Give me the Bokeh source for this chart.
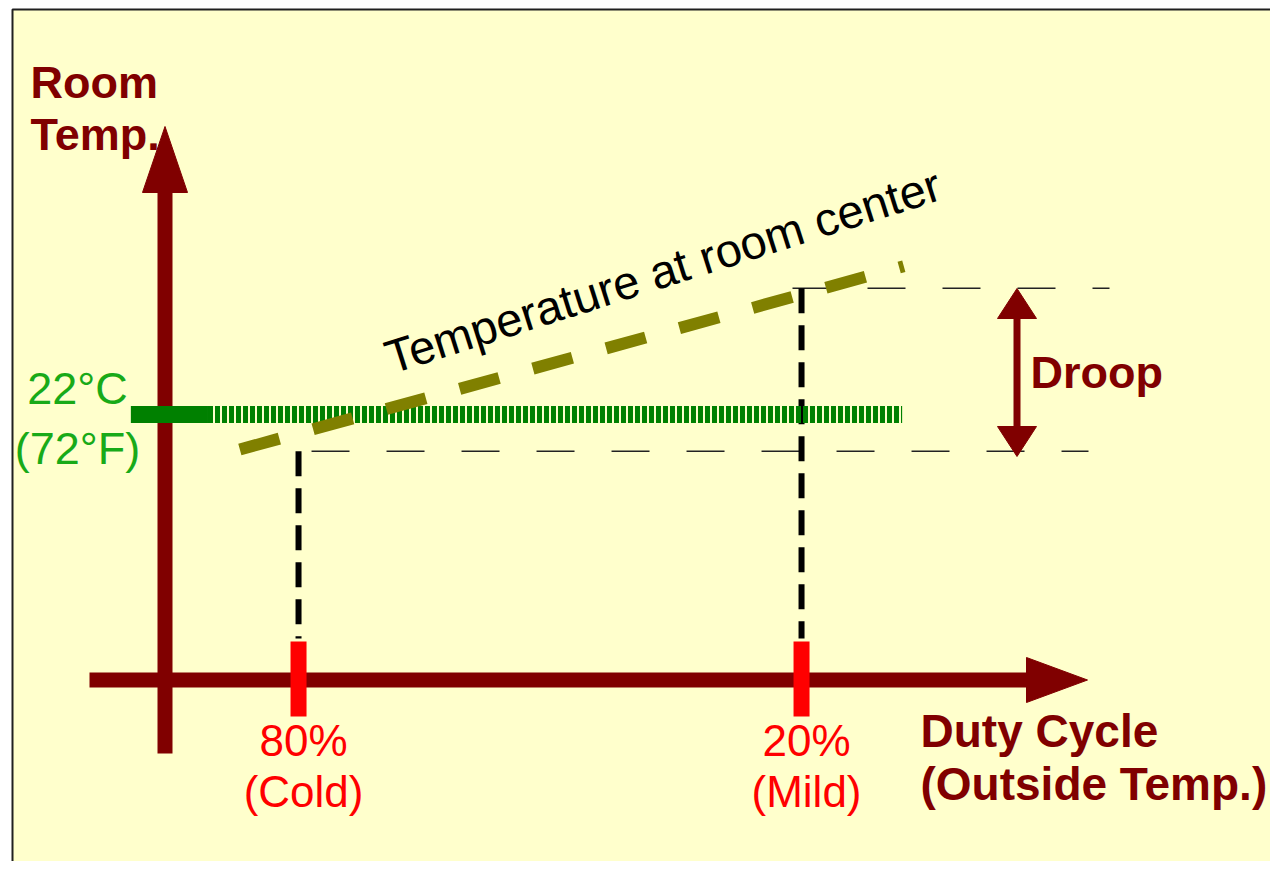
import math
from bokeh.plotting import figure
from bokeh.models import Range1d
from bokeh.core.properties import value
from bokeh.embed import file_html
from bokeh.resources import INLINE

# ---------------- data (schematic values) ----------------
duty_cycle = [80, 20]                      # % duty cycle at the two marked points
duty_pct_labels = ["80%", "20%"]
duty_conditions = ["(Cold)", "(Mild)"]
droop_temp_c = [21.55, 23.55]              # reference room temperatures bounding the droop
setpoint_c = 22
setpoint_labels = ["22°C", "(72°F)"]
setpoint_duty_span = [100.0, 8.0]          # extent of the thermostat set-point line
setpoint_solid_end = 90.8
center_line_duty = [87.0, 7.8]             # temperature at room center (dashed olive)
center_line_temp = [21.57, 23.82]
center_label = "Temperature at room center"
y_title = ["Room", "Temp."]
x_title = ["Duty Cycle", "(Outside Temp.)"]
droop_label = "Droop"

# ---------------- layout ----------------
W, H = 1270, 861
X0, X1 = 115.55, -35.94        # duty cycle at left / right edge (reversed axis)
Y0, Y1 = 16.515, 27.080        # temperature at bottom / top edge
TXT_DY = -17                   # baseline correction for text placement (px)


def X(px):
    return X0 + px / W * (X1 - X0)


def Y(py):
    return Y1 - py / H * (Y1 - Y0)


def TY(py):
    return Y(py + TXT_DY)


MAROON = "#800000"
FONT = value("Liberation Sans")

p = figure(width=W, height=H, x_range=Range1d(X0, X1), y_range=Range1d(Y0, Y1),
           output_backend="svg", toolbar_location=None, min_border=0)
p.axis.visible = False
p.grid.visible = False
p.outline_line_color = None
p.background_fill_color = "white"
p.border_fill_color = "white"

# slide background with frame
p.quad(left=[X(12)], right=[X(1271)], top=[Y(9)], bottom=[Y(890)],
       fill_color="#FFFFCC", line_color="#202020", line_width=2)
p.segment(x0=[X(1273.5)], y0=[Y(11)], x1=[X(1273.5)], y1=[Y(890)],
          line_color="#a8a8a8", line_width=2)

# axes arrows
p.segment(x0=[X(164.5)], y0=[Y(753)], x1=[X(164.5)], y1=[Y(185)],
          line_color=MAROON, line_width=15, line_cap="butt")
p.patch([X(142), X(187), X(164.5)], [Y(192), Y(192), Y(126)],
        fill_color=MAROON, line_color=MAROON, line_width=1)
p.segment(x0=[X(89)], y0=[Y(679.5)], x1=[X(1032)], y1=[Y(679.5)],
          line_color=MAROON, line_width=15, line_cap="butt")
p.patch([X(1026), X(1026), X(1087)], [Y(657), Y(702), Y(679.5)],
        fill_color=MAROON, line_color=MAROON, line_width=1)

# thin droop reference lines
p.segment(x0=[duty_cycle[0]], y0=[droop_temp_c[0]], x1=[X(1088)], y1=[droop_temp_c[0]],
          line_color="#222222", line_width=1.5, line_dash="38 37", line_dash_offset=62)
p.segment(x0=[X(792)], y0=[droop_temp_c[1]], x1=[X(1109)], y1=[droop_temp_c[1]],
          line_color="#222222", line_width=1.5, line_dash="38 37")

# vertical black dashed drops
p.segment(x0=duty_cycle, y0=droop_temp_c, x1=duty_cycle, y1=[Y(638)] * 2,
          line_color="black", line_width=6, line_dash="25 12", line_cap="butt")

# red ticks on the duty cycle axis
p.segment(x0=duty_cycle, y0=[Y(641)] * 2, x1=duty_cycle, y1=[Y(716)] * 2,
          line_color="#FF0000", line_width=16, line_cap="butt")

# set-point line
p.segment(x0=[setpoint_duty_span[0]], y0=[setpoint_c], x1=[setpoint_solid_end], y1=[setpoint_c],
          line_color="#008000", line_width=17, line_cap="butt")
p.segment(x0=[setpoint_solid_end], y0=[setpoint_c], x1=[setpoint_duty_span[1]], y1=[setpoint_c],
          line_color="#008000", line_width=17, line_cap="butt", line_dash="5 2")

# temperature at room center (olive dashed)
p.line(center_line_duty, center_line_temp, line_color="#808000", line_width=12,
       line_dash="41 35", line_cap="butt")

# droop double arrow
p.segment(x0=[X(1016.5)], y0=[Y(312)], x1=[X(1016.5)], y1=[Y(432)],
          line_color=MAROON, line_width=7, line_cap="butt")
p.patch([X(997), X(1036), X(1016.5)], [Y(318), Y(318), Y(288)],
        fill_color=MAROON, line_color=MAROON, line_width=1)
p.patch([X(997), X(1036), X(1016.5)], [Y(426), Y(426), Y(456)],
        fill_color=MAROON, line_color=MAROON, line_width=1)

# texts
p.text(x=[X(30)] * 2, y=[TY(99), TY(151)], text=y_title, text_font=FONT,
       text_font_size="45px", text_font_style="bold", text_color=MAROON,
       text_align="left", text_baseline="alphabetic")
p.text(x=[X(920)] * 2, y=[TY(747), TY(800)], text=x_title, text_font=FONT,
       text_font_size="46px", text_font_style="bold", text_color=MAROON,
       text_align="left", text_baseline="alphabetic")
p.text(x=[X(1030)], y=[TY(389)], text=[droop_label], text_font=FONT,
       text_font_size="45px", text_font_style="bold", text_color=MAROON,
       text_align="left", text_baseline="alphabetic")
p.text(x=[X(77)] * 2, y=[TY(405), TY(465)], text=setpoint_labels, text_font=FONT,
       text_font_size="45px", text_color="#18aa18",
       text_align="center", text_baseline="alphabetic")
p.text(x=duty_cycle, y=[TY(757)] * 2, text=duty_pct_labels, text_font=FONT,
       text_font_size="44px", text_color="#FF0000", x_offset=5,
       text_align="center", text_baseline="alphabetic")
p.text(x=duty_cycle, y=[TY(808)] * 2, text=duty_conditions, text_font=FONT,
       text_font_size="44px", text_color="#FF0000", x_offset=5,
       text_align="center", text_baseline="alphabetic")
ang = math.radians(17.6)
p.text(x=[X(386)], y=[Y(358)], text=[center_label], text_font=FONT,
       text_font_size="47px", text_color="black", angle=ang,
       text_align="left", text_baseline="alphabetic")

open("out.html", "w").write(file_html(p, INLINE))
